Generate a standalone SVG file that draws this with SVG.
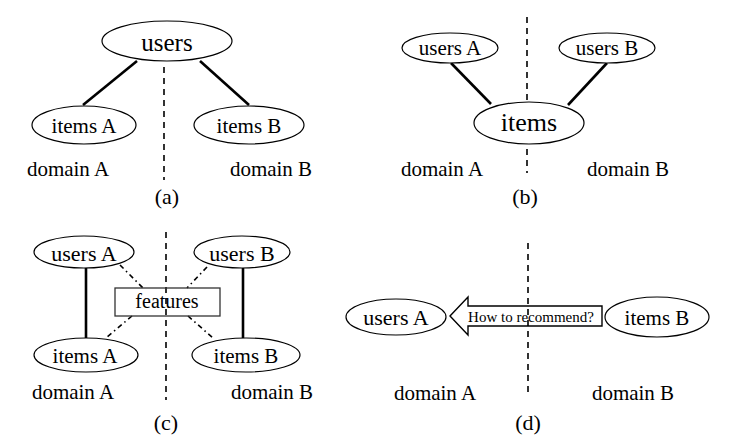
<svg xmlns="http://www.w3.org/2000/svg" width="739" height="445" viewBox="0 0 739 445">
<style>
.n{fill:#fff;stroke:#000;stroke-width:1.2}
.t{font-family:"Times New Roman","Liberation Serif","DejaVu Serif",Times,serif;fill:#000;text-anchor:middle}
.s{stroke:#000;stroke-width:2.6;fill:none}
.d{stroke:#000;stroke-width:1.6;stroke-dasharray:6 5;fill:none}
.dd{stroke:#000;stroke-width:1.6;stroke-dasharray:5 3.5 1.5 3.5;fill:none}
</style>
<rect width="739" height="445" fill="#fff"/>
<g id="dividers">
<line class="d" x1="164" y1="67" x2="164" y2="180"/>
<line class="d" x1="527" y1="17" x2="527" y2="173"/>
<line class="d" x1="166" y1="232" x2="166" y2="400"/>
<line class="d" x1="528" y1="243" x2="528" y2="393"/>
</g>
<g id="connectors">
<line class="s" x1="137" y1="61" x2="83" y2="105"/>
<line class="s" x1="200" y1="61" x2="249" y2="105"/>
<line class="s" x1="451" y1="63" x2="491" y2="104"/>
<line class="s" x1="607" y1="63" x2="568" y2="105"/>
<line class="s" x1="86" y1="268" x2="86" y2="338"/>
<line class="s" x1="243" y1="268" x2="243" y2="338"/>
<line class="dd" x1="120" y1="265" x2="143" y2="288"/>
<line class="dd" x1="207" y1="267" x2="187" y2="288"/>
<line class="dd" x1="132" y1="316" x2="106" y2="338"/>
<line class="dd" x1="188" y1="316" x2="213" y2="338"/>
</g>
<g id="a-users"><ellipse class="n" cx="167" cy="41" rx="65" ry="20"/><text class="t" x="167" y="51" font-size="25">users</text></g>
<g id="a-itemsA"><ellipse class="n" cx="84" cy="125" rx="52" ry="19"/><text class="t" x="84" y="133" font-size="21">items A</text></g>
<g id="a-itemsB"><ellipse class="n" cx="249" cy="125" rx="55" ry="19"/><text class="t" x="249" y="133" font-size="21">items B</text></g>
<text class="t" x="68" y="176" font-size="21">domain A</text>
<text class="t" x="271" y="176" font-size="21">domain B</text>
<text class="t" x="167" y="204" font-size="22">(a)</text>
<g id="b-usersA"><ellipse class="n" cx="450" cy="48" rx="48" ry="15"/><text class="t" x="450" y="55" font-size="21">users A</text></g>
<g id="b-usersB"><ellipse class="n" cx="607" cy="48" rx="48" ry="15"/><text class="t" x="607" y="55" font-size="21">users B</text></g>
<g id="b-items"><ellipse class="n" cx="529" cy="123" rx="55" ry="21"/><text class="t" x="529" y="131" font-size="26">items</text></g>
<text class="t" x="442" y="176" font-size="21">domain A</text>
<text class="t" x="628" y="176" font-size="21">domain B</text>
<text class="t" x="525" y="204" font-size="22">(b)</text>
<g id="c-usersA"><ellipse class="n" cx="84" cy="252" rx="50" ry="16"/><text class="t" x="84" y="261" font-size="22">users A</text></g>
<g id="c-usersB"><ellipse class="n" cx="242" cy="252" rx="48" ry="16"/><text class="t" x="242" y="261" font-size="22">users B</text></g>
<g id="c-features"><rect x="115" y="288" width="105" height="28" fill="none" stroke="#333" stroke-width="1.3"/><text class="t" x="167" y="308" font-size="20">features</text></g>
<g id="c-itemsA"><ellipse class="n" cx="86" cy="355" rx="52" ry="17"/><text class="t" x="85" y="363" font-size="21">items A</text></g>
<g id="c-itemsB"><ellipse class="n" cx="246" cy="355" rx="54" ry="17"/><text class="t" x="246" y="363" font-size="21">items B</text></g>
<text class="t" x="73" y="399" font-size="21">domain A</text>
<text class="t" x="272" y="399" font-size="21">domain B</text>
<text class="t" x="166" y="430" font-size="22">(c)</text>
<g id="d-usersA"><ellipse class="n" cx="396" cy="317" rx="50" ry="18"/><text class="t" x="396" y="325" font-size="22">users A</text></g>
<g id="d-arrow"><polygon points="450,316 468,297 468,306 602,306 602,326 468,326 468,335" fill="none" stroke="#000" stroke-width="1.4"/><text class="t" x="531" y="322" font-size="15">How to recommend?</text></g>
<g id="d-itemsB"><ellipse class="n" cx="657" cy="317" rx="52" ry="20"/><text class="t" x="657" y="325" font-size="21">items B</text></g>
<text class="t" x="435" y="400" font-size="21">domain A</text>
<text class="t" x="633" y="400" font-size="21">domain B</text>
<text class="t" x="528" y="430" font-size="22">(d)</text>
</svg>
